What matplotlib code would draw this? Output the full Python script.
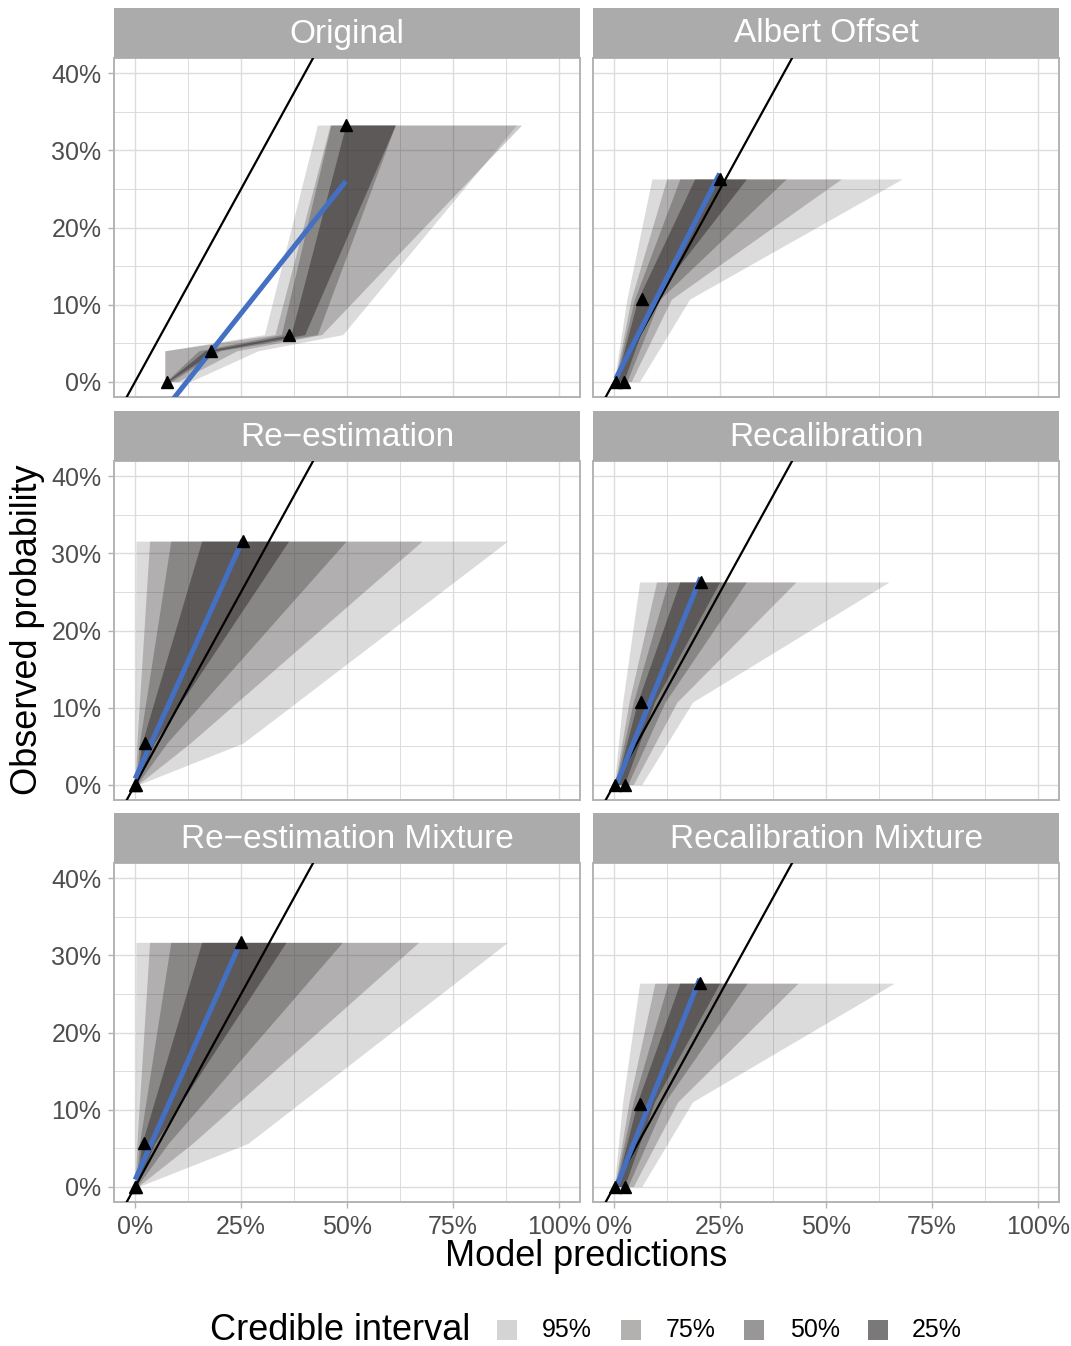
import numpy as np
import matplotlib
matplotlib.use("Agg")
import matplotlib.pyplot as plt
from matplotlib.patches import Rectangle
from matplotlib.ticker import FixedLocator, FixedFormatter

plt.rcParams['font.family'] = ['Liberation Sans', 'DejaVu Sans']

# ---------------- data ----------------
PANEL_TITLES = ["Original", "Albert Offset",
                "Re\u2212estimation", "Recalibration",
                "Re\u2212estimation Mixture", "Recalibration Mixture"]
CI_LABELS = ["95%", "75%", "50%", "25%"]
XTICKS = [0, 0.25, 0.5, 0.75, 1.0]
XTICK_LABELS = ["0%", "25%", "50%", "75%", "100%"]
YTICKS = [0, 0.1, 0.2, 0.3, 0.4]
YTICK_LABELS = ["0%", "10%", "20%", "30%", "40%"]

# Original
ORIG_X = [0.074, 0.180, 0.364, 0.497]
ORIG_Y = [0.000, 0.040, 0.061, 0.333]
ORIG_LEVELS = [0.000, 0.040, 0.061, 0.333]
ORIG_LO = [[0.070, 0.070, 0.305, 0.430],
           [0.070, 0.070, 0.330, 0.460],
           [0.072, 0.150, 0.345, 0.462],
           [0.074, 0.165, 0.368, 0.497]]
ORIG_HI = [[0.130, 0.290, 0.490, 0.900],
           [0.100, 0.240, 0.440, 0.912],
           [0.085, 0.200, 0.430, 0.614],
           [0.078, 0.190, 0.400, 0.614]]

# Albert Offset
ALB_X = [0.004, 0.024, 0.065, 0.249]
ALB_Y = [0.000, 0.000, 0.107, 0.263]
ALB_LEVELS = [0.000, 0.107, 0.263]
ALB_LO = [[0.000, 0.030, 0.089],
          [0.001, 0.040, 0.124],
          [0.002, 0.048, 0.155],
          [0.004, 0.056, 0.190]]
ALB_HI = [[0.060, 0.178, 0.680],
          [0.040, 0.135, 0.536],
          [0.030, 0.108, 0.406],
          [0.022, 0.092, 0.312]]

# Re-estimation
REE_X = [0.000, 0.002, 0.022, 0.254]
REE_Y = [0.000, 0.000, 0.054, 0.316]
REE_LEVELS = [0.000, 0.054, 0.316]
REE_LO = [[0.000, 0.000, 0.002],
          [0.000, 0.004, 0.034],
          [0.001, 0.010, 0.084],
          [0.002, 0.016, 0.157]]
REE_HI = [[0.008, 0.255, 0.879],
          [0.006, 0.130, 0.677],
          [0.004, 0.075, 0.498],
          [0.003, 0.045, 0.362]]

# Recalibration
REC_X = [0.003, 0.025, 0.063, 0.204]
REC_Y = [0.000, 0.000, 0.107, 0.263]
REC_LEVELS = [0.000, 0.107, 0.263]
REC_LO = [[0.000, 0.020, 0.060],
          [0.001, 0.035, 0.100],
          [0.002, 0.045, 0.127],
          [0.004, 0.055, 0.155]]
REC_HI = [[0.065, 0.185, 0.649],
          [0.045, 0.148, 0.429],
          [0.032, 0.120, 0.312],
          [0.024, 0.095, 0.249]]

# Re-estimation Mixture
REEM_X = [0.000, 0.002, 0.020, 0.250]
REEM_Y = [0.000, 0.000, 0.056, 0.317]
REEM_LEVELS = [0.000, 0.056, 0.317]
REEM_LO = [[0.000, 0.000, 0.002],
           [0.000, 0.004, 0.034],
           [0.001, 0.010, 0.084],
           [0.002, 0.016, 0.157]]
REEM_HI = [[0.008, 0.266, 0.879],
           [0.006, 0.135, 0.669],
           [0.004, 0.078, 0.489],
           [0.003, 0.046, 0.356]]

# Recalibration Mixture
RECM_X = [0.003, 0.026, 0.061, 0.202]
RECM_Y = [0.000, 0.000, 0.107, 0.264]
RECM_LEVELS = [0.000, 0.110, 0.264]
RECM_LO = [[0.000, 0.020, 0.060],
           [0.001, 0.035, 0.096],
           [0.002, 0.045, 0.127],
           [0.004, 0.055, 0.155]]
RECM_HI = [[0.065, 0.185, 0.661],
           [0.045, 0.150, 0.434],
           [0.032, 0.120, 0.314],
           [0.024, 0.095, 0.249]]

# ---------------- style ----------------
W, H = 1071, 1346
FILL = "#2a2525"
ALPHAS = [0.16, 0.24, 0.29, 0.46]
KEY_COLORS = ["#d4d4d4", "#b3b0b0", "#989696", "#7a7878"]
BLUE = "#4470c4"
GRID = "#dcdcdc"
BORDER = "#b3b3b3"
STRIP = "#ababab"

fig = plt.figure(figsize=(W / 100, H / 100), dpi=100)
fig.patch.set_facecolor("white")

def fx(px):
    return px / W

def fy(py):
    return 1 - py / H

COL_X = [114, 593]
PANEL_W = 466
ROW_TOP = [58, 461, 863]
PANEL_H = 339
STRIP_H = 50

panels = [
    (ORIG_X, ORIG_Y, ORIG_LEVELS, ORIG_LO, ORIG_HI),
    (ALB_X, ALB_Y, ALB_LEVELS, ALB_LO, ALB_HI),
    (REE_X, REE_Y, REE_LEVELS, REE_LO, REE_HI),
    (REC_X, REC_Y, REC_LEVELS, REC_LO, REC_HI),
    (REEM_X, REEM_Y, REEM_LEVELS, REEM_LO, REEM_HI),
    (RECM_X, RECM_Y, RECM_LEVELS, RECM_LO, RECM_HI),
]

for i, (title, (px, py, lev, lo, hi)) in enumerate(zip(PANEL_TITLES, panels)):
    r, c = divmod(i, 2)
    x0 = COL_X[c]
    top = ROW_TOP[r]
    ax = fig.add_axes([fx(x0), fy(top + PANEL_H), fx(PANEL_W), PANEL_H / H])
    ax.set_xlim(-0.05, 1.05)
    ax.set_ylim(-0.02, 0.42)
    ax.xaxis.set_major_locator(FixedLocator(XTICKS))
    ax.yaxis.set_major_locator(FixedLocator(YTICKS))
    ax.xaxis.set_minor_locator(FixedLocator([0.125, 0.375, 0.625, 0.875]))
    ax.yaxis.set_minor_locator(FixedLocator([0.05, 0.15, 0.25, 0.35]))
    ax.xaxis.set_major_formatter(FixedFormatter(XTICK_LABELS))
    ax.yaxis.set_major_formatter(FixedFormatter(YTICK_LABELS))
    ax.grid(True, which="major", color=GRID, lw=1.0, zorder=0)
    ax.grid(True, which="minor", color=GRID, lw=0.7, zorder=0)
    ax.set_axisbelow(True)
    for s in ax.spines.values():
        s.set_color(BORDER)
        s.set_linewidth(1.4)
    ax.tick_params(which="minor", length=0)
    ax.tick_params(which="major", color=BORDER, length=4, width=1,
                   labelsize=18, labelcolor="#4d4d4d", pad=5)
    if c == 1:
        ax.tick_params(axis="y", which="major", length=0, labelleft=False)
    if r < 2:
        ax.tick_params(axis="x", which="major", length=0, labelbottom=False)

    lev_a = np.array(lev)
    for k in range(4):
        ax.fill_betweenx(lev_a, lo[k], hi[k], color=FILL, alpha=ALPHAS[k],
                         lw=0, zorder=2)
    ax.axline((0, 0), slope=1, color="black", lw=1.6, zorder=3)
    coef = np.polyfit(px, py, 1)
    xs = np.array([min(px), max(px)])
    ax.plot(xs, np.polyval(coef, xs), color=BLUE, lw=3.6, zorder=4,
            solid_capstyle="butt")
    ax.plot(px, py, linestyle="none", marker="^", color="black", ms=9,
            mec="black", zorder=5, clip_on=False)

    sax = fig.add_axes([fx(x0), fy(top), fx(PANEL_W), STRIP_H / H])
    sax.set_facecolor(STRIP)
    sax.set_xticks([])
    sax.set_yticks([])
    for s in sax.spines.values():
        s.set_visible(False)
    sax.text(0.5, 0.48, title, color="white", fontsize=24,
             ha="center", va="center", transform=sax.transAxes)

# axis titles
fig.text(fx(586), fy(1256), "Model predictions", fontsize=26,
         ha="center", va="center", color="black")
fig.text(fx(28), fy(630), "Observed probability", fontsize=26,
         ha="center", va="center", rotation=90, color="black")

# legend
LEG_Y = 1330
fig.text(fx(210), fy(LEG_Y), "Credible interval", fontsize=26,
         ha="left", va="center", color="black")
KEY_X = [497, 621, 744, 868]
LAB_X = [542, 666, 790, 912]
for kx, lx, col, lab in zip(KEY_X, LAB_X, KEY_COLORS, CI_LABELS):
    fig.add_artist(Rectangle((fx(kx), fy(LEG_Y + 10)), fx(20), 20 / H,
                             transform=fig.transFigure, facecolor=col,
                             edgecolor="none"))
    fig.text(fx(lx), fy(LEG_Y), lab, fontsize=18, ha="left", va="center",
             color="black")

fig.savefig("out.png", dpi=100, facecolor="white")
